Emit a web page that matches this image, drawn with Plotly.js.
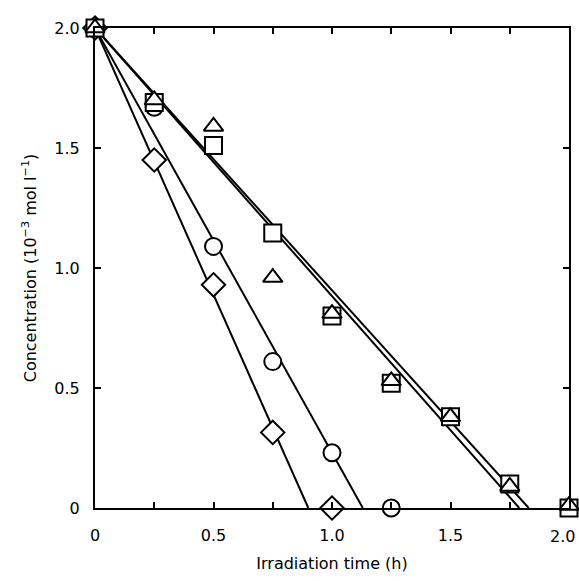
<!DOCTYPE html>
<html>
<head>
<meta charset="utf-8">
<script src="https://cdn.plot.ly/plotly-3.0.1.min.js"></script>
<style>html,body{margin:0;padding:0;background:#fff;}#chart{width:579px;height:581px;}</style>
</head>
<body>
<div id="chart"></div>
<script>
// Measured data (irradiation time in h, concentration in 10^-3 mol/l)
const timeDiamond = [0, 0.25, 0.5, 0.75, 1.0];
const concDiamond = [2.0, 1.45, 0.93, 0.315, 0.0];
const timeCircle = [0, 0.25, 0.5, 0.75, 1.0, 1.25];
const concCircle = [2.0, 1.67, 1.09, 0.61, 0.23, 0.0];
const timeSquare = [0, 0.25, 0.5, 0.75, 1.0, 1.25, 1.5, 1.75, 2.0];
const concSquare = [2.0, 1.69, 1.51, 1.146, 0.80, 0.52, 0.38, 0.10, 0.0];
const timeTriangle = [0, 0.25, 0.5, 0.75, 1.0, 1.25, 1.5, 1.75, 2.0];
const concTriangle = [2.0, 1.70, 1.59, 0.96, 0.81, 0.53, 0.38, 0.09, 0.01];
// Fitted straight lines (start and x-intercept)
const fitDiamondX = [0, 0.90];   const fitDiamondY = [2.0, 0];
const fitCircleX = [0, 1.13];    const fitCircleY = [2.0, 0];
const fitSquareX = [0, 1.79];    const fitSquareY = [2.0, 0];
const fitTriangleX = [0, 1.83];  const fitTriangleY = [2.0, 0];
// Tick labels
const xTickVals = [0, 0.25, 0.5, 0.75, 1.0, 1.25, 1.5, 1.75, 2.0];
const xTickText = ['0', '', '0.5', '', '1.0', '', '1.5', '', '2.0'];
const yTickVals = [0, 0.5, 1.0, 1.5, 2.0];
const yTickText = ['0', '0.5', '1.0', '1.5', '2.0'];

const lineStyle = {color: '#000', width: 2};
function fit(x, y) {
  return {x: x, y: y, mode: 'lines', line: lineStyle, hoverinfo: 'skip', showlegend: false, cliponaxis: false};
}
function pts(x, y, sym, size) {
  return {x: x, y: y, mode: 'markers', showlegend: false, cliponaxis: false,
    marker: {symbol: sym, size: size, color: '#fff', line: {color: '#000', width: 2}}};
}
const data = [
  fit(fitDiamondX, fitDiamondY),
  fit(fitCircleX, fitCircleY),
  fit(fitSquareX, fitSquareY),
  fit(fitTriangleX, fitTriangleY),
  pts(timeDiamond, concDiamond, 'diamond', 18),
  pts(timeCircle, concCircle, 'circle', 17),
  pts(timeSquare, concSquare, 'square', 17),
  pts(timeTriangle, concTriangle, 'triangle-up', 17)
];
const font = {family: '"DejaVu Sans", "Liberation Sans", Arial, sans-serif', size: 16, color: '#000'};

// Last x tick label is drawn as an annotation so it can sit inside the page edge
const lastIdx = xTickVals.length - 1;
const shownXText = xTickText.map((t, i) => (i === lastIdx ? '' : t));
const annotations = [{
  x: xTickVals[lastIdx], xref: 'x', y: 0, yref: 'paper',
  text: xTickText[lastIdx], showarrow: false, font: font,
  xanchor: 'center', yanchor: 'top', xshift: -7, yshift: -17
}];

const layout = {
  width: 579, height: 581,
  margin: {l: 95, r: 10, t: 28, b: 73},
  paper_bgcolor: '#fff', plot_bgcolor: '#fff',
  font: font,
  showlegend: false,
  annotations: annotations,
  xaxis: {
    range: [0, 2.0], tickvals: xTickVals, ticktext: shownXText,
    ticks: 'inside', ticklen: 6, tickwidth: 2, tickcolor: '#000',
    showline: true, linewidth: 2, linecolor: '#000', mirror: 'ticks',
    showgrid: false, zeroline: false, tickfont: font,
    ticklabelstandoff: 12, ticklabeloverflow: 'allow',
    title: {text: 'Irradiation time (h)', font: font, standoff: 14}
  },
  yaxis: {
    range: [0, 2.0], tickvals: yTickVals, ticktext: yTickText,
    ticks: 'inside', ticklen: 6, tickwidth: 2, tickcolor: '#000',
    showline: true, linewidth: 2, linecolor: '#000', mirror: 'ticks',
    showgrid: false, zeroline: false, tickfont: font,
    ticklabelstandoff: 10, ticklabeloverflow: 'allow',
    title: {text: 'Concentration (10<sup>−3</sup> mol l<sup>−1</sup>)', font: font, standoff: 14}
  }
};
Plotly.newPlot('chart', data, layout, {displayModeBar: false, staticPlot: true});
</script>
</body>
</html>
